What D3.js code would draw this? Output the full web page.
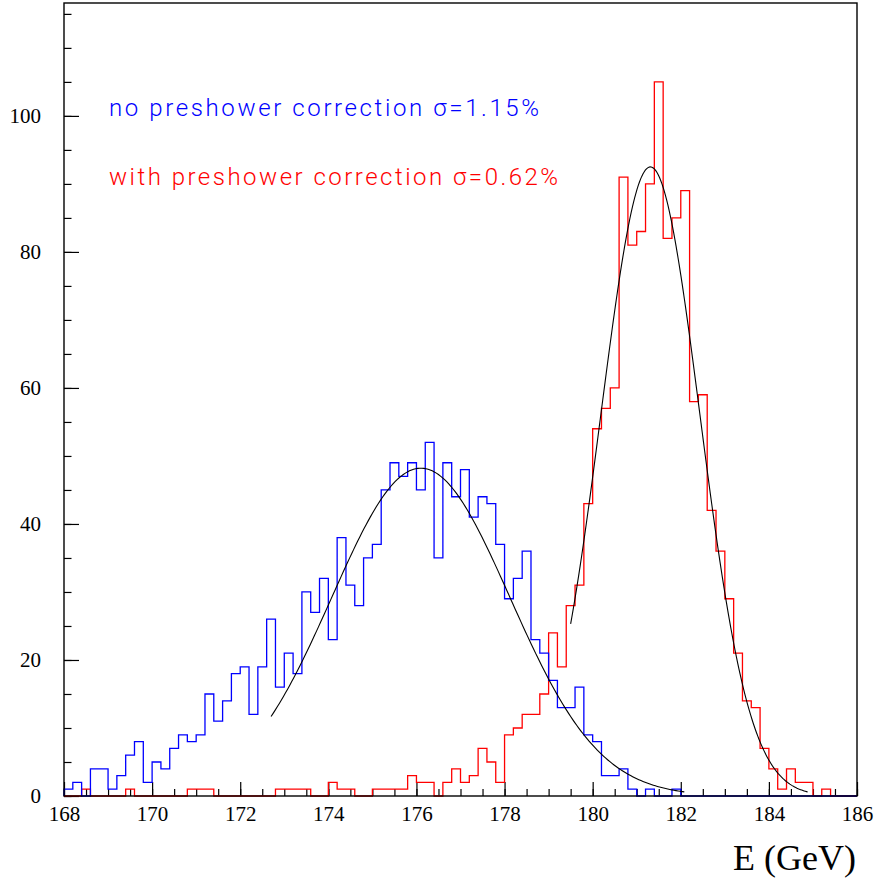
<!DOCTYPE html>
<html>
<head>
<meta charset="utf-8">
<script src="https://cdn.jsdelivr.net/npm/d3@7"></script>
<style>
  html, body { margin: 0; padding: 0; background: #fff; }
  .axis text { font-family: "Liberation Serif", "Times New Roman", serif; font-size: 21px; fill: #000; }
  .axis line { stroke: #000; stroke-width: 1.2; }
  .axis path { display: none; }
  .legend { font-family: Roboto, "Liberation Sans", sans-serif; font-weight: 300; font-size: 24px; }
</style>
</head>
<body>
<div id="chart"></div>
<script>
// histogram bins: 90 bins of 0.2 GeV from 168 to 186
const binStart = 168,
      binWidth = 0.2;

// no preshower correction (blue)
const noCorrCounts = [
  1, 2, 0, 4, 4, 1, 3, 6, 8, 2,
  5, 4, 7, 9, 8, 9, 15, 11, 14, 18,
  19, 12, 19, 26, 16, 21, 18, 30, 27, 32,
  23, 38, 31, 28, 35, 37, 45, 49, 47, 49,
  45, 52, 35, 49, 44, 48, 41, 44, 43, 37,
  29, 32, 36, 23, 21, 17, 13, 13, 16, 9,
  8, 3, 3, 4, 1, 0, 1, 0, 0, 1,
  0, 0, 0, 0, 0, 0, 0, 0, 0, 0,
  0, 0, 0, 0, 0, 0, 0, 0, 0, 0
];

// with preshower correction (red)
const withCorrCounts = [
  0, 0, 1, 0, 0, 0, 0, 1, 0, 0,
  0, 0, 0, 0, 1, 1, 1, 0, 0, 0,
  0, 0, 0, 0, 1, 1, 1, 1, 0, 0,
  2, 1, 1, 0, 0, 1, 1, 1, 1, 3,
  2, 2, 0, 2, 4, 2, 3, 7, 5, 2,
  9, 10, 12, 12, 15, 24, 19, 28, 31, 43,
  54, 57, 60, 91, 81, 83, 90, 105, 82, 85,
  89, 58, 59, 42, 36, 29, 21, 14, 13, 7,
  4, 1, 4, 2, 2, 0, 1, 0, 0, 0
];

// gaussian fits: [amplitude, mean, sigma, from, to]
const noCorrFit = [48.2, 176.1, 2.02, 172.7, 182.08];
const withCorrFit = [92.5, 181.31, 1.124, 179.5, 184.88];

const xTicks = [168, 170, 172, 174, 176, 178, 180, 182, 184, 186];
const yTicks = [0, 20, 40, 60, 80, 100];

const legendLines = [
  { text: 'no preshower correction \u03c3=1.15%', color: '#0000ff' },
  { text: 'with preshower correction \u03c3=0.62%', color: '#ff0000' }
];

const xLabel = 'E (GeV)';

let width = 877,
    height = 882,
    plotLeft = 64, plotRight = 857, plotTop = 3, plotBottom = 796;

let svg = d3.select('#chart').append('svg')
    .attr('width', width)
    .attr('height', height);

let x = d3.scaleLinear().domain([168, 186]).range([plotLeft, plotRight]);
let y = d3.scaleLinear().domain([0, 116.6]).range([plotBottom, plotTop]);

// minor ticks first, then major ones with labels
svg.append('g')
    .attr('class', 'axis')
    .attr('transform', 'translate(0,' + plotBottom + ')')
    .call(d3.axisBottom(x).tickValues(d3.range(168, 186.01, 0.5)).tickSize(-7).tickFormat(''));

svg.append('g')
    .attr('class', 'axis')
    .attr('transform', 'translate(0,' + plotBottom + ')')
    .call(d3.axisBottom(x).tickValues(xTicks).tickSize(-14).tickPadding(10).tickFormat(d3.format('d')));

svg.append('g')
    .attr('class', 'axis')
    .attr('transform', 'translate(' + plotLeft + ',0)')
    .call(d3.axisLeft(y).tickValues(d3.range(0, 116, 5)).tickSize(-7.5).tickFormat(''));

svg.append('g')
    .attr('class', 'axis')
    .attr('transform', 'translate(' + plotLeft + ',0)')
    .call(d3.axisLeft(y).tickValues(yTicks).tickSize(-15).tickPadding(23).tickFormat(d3.format('d')));

// step outline of a histogram
function histPath(counts) {
    let p = d3.path();
    p.moveTo(x(binStart), y(0));
    counts.forEach((c, i) => {
        p.lineTo(x(binStart + i * binWidth), y(c));
        p.lineTo(x(binStart + (i + 1) * binWidth), y(c));
    });
    p.lineTo(x(binStart + counts.length * binWidth), y(0));
    return p.toString();
}

svg.append('path')
    .attr('d', histPath(withCorrCounts))
    .attr('fill', 'none')
    .attr('stroke', '#ff0000')
    .attr('stroke-width', 1.3);

svg.append('path')
    .attr('d', histPath(noCorrCounts))
    .attr('fill', 'none')
    .attr('stroke', '#0000ff')
    .attr('stroke-width', 1.3);

// fitted gaussians
function fitPoints(fit) {
    let [amp, mean, sigma, from, to] = fit,
        n = 200,
        pts = [];
    for (let i = 0; i <= n; i++) {
        let e = from + (to - from) * i / n;
        pts.push([e, amp * Math.exp(-0.5 * Math.pow((e - mean) / sigma, 2))]);
    }
    return pts;
}

let line = d3.line().x(d => x(d[0])).y(d => y(d[1]));

[noCorrFit, withCorrFit].forEach(fit => {
    svg.append('path')
        .attr('d', line(fitPoints(fit)))
        .attr('fill', 'none')
        .attr('stroke', '#000')
        .attr('stroke-width', 1.1);
});

// frame
svg.append('rect')
    .attr('x', plotLeft).attr('y', plotTop)
    .attr('width', plotRight - plotLeft).attr('height', plotBottom - plotTop)
    .attr('fill', 'none')
    .attr('stroke', '#000')
    .attr('stroke-width', 1.4);

// legend texts
let legendY = [116, 184.5],
    legendLen = [430, 449];

svg.selectAll('.legend')
    .data(legendLines)
    .enter().append('text')
    .attr('class', 'legend')
    .attr('x', 109)
    .attr('y', (d, i) => legendY[i])
    .attr('textLength', (d, i) => legendLen[i])
    .attr('lengthAdjust', 'spacing')
    .attr('fill', d => d.color)
    .text(d => d.text);

svg.append('text')
    .attr('x', 856)
    .attr('y', 870)
    .attr('text-anchor', 'end')
    .style('font-family', '"Liberation Serif", "Times New Roman", serif')
    .style('font-size', '36px')
    .text(xLabel);
</script>
</body>
</html>
